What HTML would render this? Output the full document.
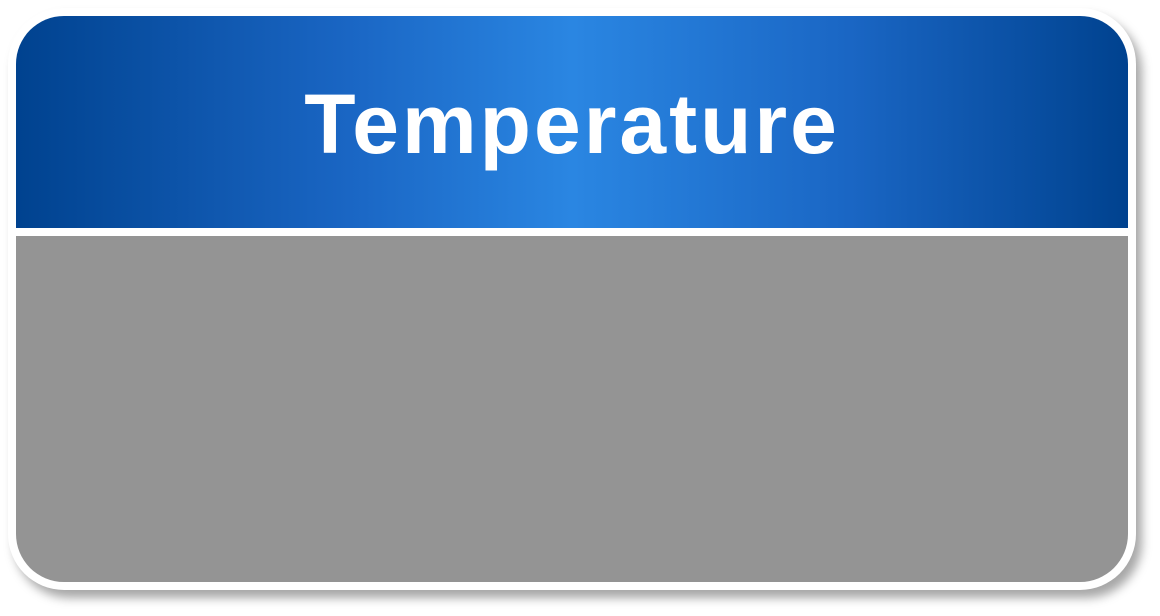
<!DOCTYPE html>
<html><head><style>
html,body{margin:0;padding:0;background:#fff;width:1160px;height:616px;overflow:hidden}
.card{position:absolute;left:8px;top:8px;width:1128px;height:582px;background:#fff;border-radius:56px;box-shadow:6px 8px 10px rgba(0,0,0,0.35)}
.head{position:absolute;left:16px;top:16px;width:1112px;height:212px;border-radius:48px 48px 0 0;background:linear-gradient(90deg,#00428f 0%,#1a66c4 30%,#2a86e2 50%,#1a66c4 75%,#00428f 100%)}
.title{position:absolute;left:-8px;width:100%;top:74px;text-align:center;color:#fff;font-family:"Liberation Sans",sans-serif;font-weight:bold;font-size:84px;line-height:100px;letter-spacing:3px}
.body{position:absolute;left:16px;top:236px;width:1112px;height:346px;background:#949494;border-radius:0 0 48px 48px}
</style></head><body>
<div class="card"></div>
<div class="head"></div>
<div class="title">Temperature</div>
<div class="body"></div>
</body></html>
